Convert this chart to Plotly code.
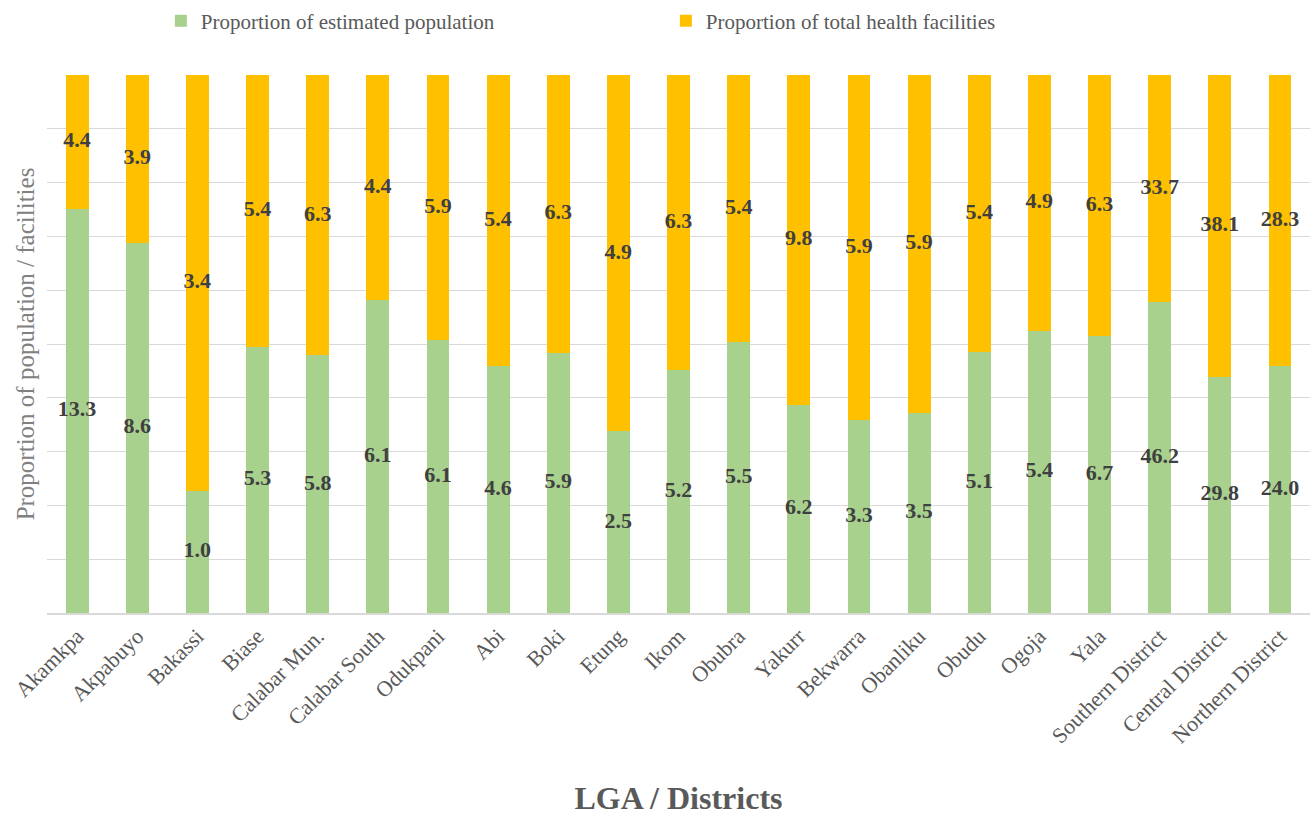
import plotly.graph_objects as go

categories = ["Akamkpa", "Akpabuyo", "Bakassi", "Biase", "Calabar Mun.", "Calabar South",
              "Odukpani", "Abi", "Boki", "Etung", "Ikom", "Obubra", "Yakurr", "Bekwarra",
              "Obanliku", "Obudu", "Ogoja", "Yala", "Southern District", "Central District",
              "Northern District"]
population = [13.3, 8.6, 1.0, 5.3, 5.8, 6.1, 6.1, 4.6, 5.9, 2.5, 5.2, 5.5, 6.2, 3.3, 3.5,
              5.1, 5.4, 6.7, 46.2, 29.8, 24.0]
facilities = [4.4, 3.9, 3.4, 5.4, 6.3, 4.4, 5.9, 5.4, 6.3, 4.9, 6.3, 5.4, 9.8, 5.9, 5.9,
              5.4, 4.9, 6.3, 33.7, 38.1, 28.3]

GREEN = "#A9D18E"
ORANGE = "#FFC000"
SERIF = "Liberation Serif, Times New Roman, serif"

fig = go.Figure()
fig.add_trace(go.Bar(x=categories, y=population, name="Proportion of estimated population",
                     marker=dict(color=GREEN, line=dict(width=0))))
fig.add_trace(go.Bar(x=categories, y=facilities, name="Proportion of total health facilities",
                     marker=dict(color=ORANGE, line=dict(width=0))))

# label positions: middle of each normalized segment
pop_share = [p / (p + f) * 100 for p, f in zip(population, facilities)]
pop_mid = [s / 2 for s in pop_share]
fac_mid = [s + (100 - s) / 2 for s in pop_share]

label_font = dict(family=SERIF, size=22, color="#404040", weight="bold")
fig.add_trace(go.Scatter(x=categories, y=pop_mid, mode="text",
                         text=[f"{v:.1f}" for v in population], showlegend=False,
                         textfont=label_font, hoverinfo="skip", cliponaxis=False))
fig.add_trace(go.Scatter(x=categories, y=fac_mid, mode="text",
                         text=[f"{v:.1f}" for v in facilities], showlegend=False,
                         textfont=label_font, hoverinfo="skip", cliponaxis=False))

fig.update_layout(
    barmode="stack",
    barnorm="percent",
    bargap=0.62,
    width=1314, height=816,
    margin=dict(l=47, r=4, t=75, b=203, autoexpand=False),
    plot_bgcolor="white", paper_bgcolor="white",
    font=dict(family=SERIF, color="#595959"),
    legend=dict(orientation="h", x=0.49, xanchor="center", y=1.1, yanchor="middle",
                font=dict(size=21, color="#595959"), itemwidth=30,
                entrywidth=460, traceorder="normal"),
    xaxis=dict(range=[-0.5, len(categories) - 0.5], tickangle=-45,
               tickfont=dict(size=22, color="#595959"),
               showline=True, linecolor="#D9D9D9", linewidth=1.5,
               title=dict(text="<b>LGA / Districts</b>", font=dict(size=32, color="#595959"),
                          standoff=40),
               ticks=""),
    yaxis=dict(range=[0, 100], dtick=10, showticklabels=False, showgrid=True,
               gridcolor="#D9D9D9", gridwidth=1.3, zeroline=False,
               title=dict(text="Proportion of population / facilities",
                          font=dict(size=25, color="#808080"), standoff=4)),
)

fig.write_html("out.html")
